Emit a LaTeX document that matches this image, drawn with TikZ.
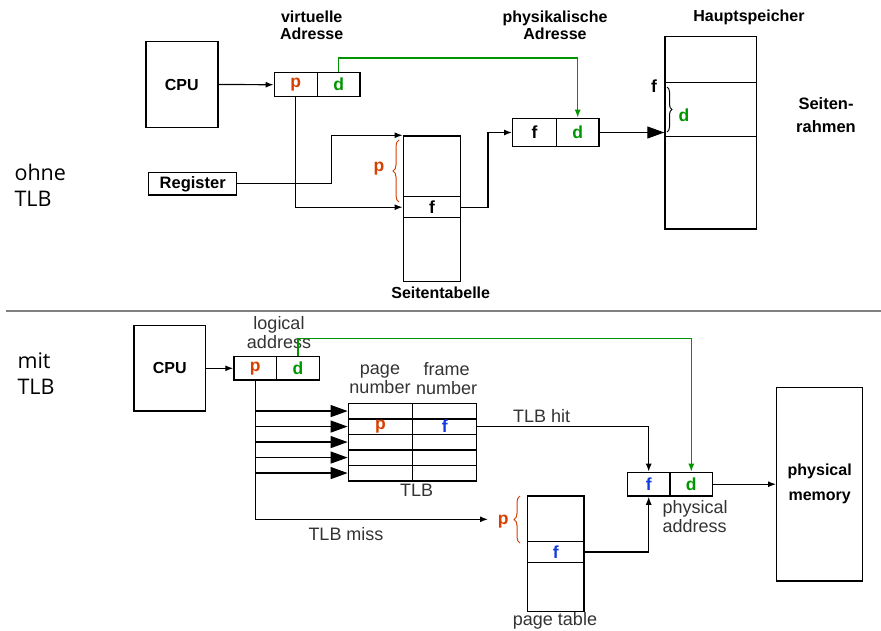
\documentclass[tikz,border=0pt]{standalone}
\usepackage{fontspec}
\setmainfont{Liberation Sans}
\newfontfamily\sidefont{Open Sans}
\usetikzlibrary{arrows.meta,decorations.pathreplacing}
\definecolor{pagered}{RGB}{214,64,0}
\definecolor{offgreen}{RGB}{0,150,0}
\definecolor{frameblue}{RGB}{20,60,220}
\tikzset{
    cell/.style 2 args={draw, line width=1.4pt, inner sep=0pt, minimum width=#1pt, minimum height=#2pt},
    arr/.style={-{Latex[length=8pt,width=6pt]}, line width=1.2pt},
    bigarr/.style={-{Triangle[length=17pt,width=12pt]}, line width=1.2pt},
    greenarr/.style={arr, offgreen},
    toplabel/.style={font=\fontsize{16}{17}\selectfont\bfseries, align=center},
    botlabel/.style={font=\fontsize{18}{19}\selectfont, align=center, text=black!80},
    letter/.style={font=\fontsize{17.5}{18}\selectfont\bfseries},
    pbrace/.style={decorate, decoration={brace, amplitude=6pt}, line width=1pt, pagered}
}
\begin{document}
\begin{tikzpicture}[x=1pt, y=-1pt]
    \useasboundingbox (0,0) rectangle (881,630);

    % Without TLB
    \node[font=\sidefont\fontsize{21.5}{26}\selectfont, anchor=west, align=left] (ohne) at (11,185) {ohne\\TLB};
    \node[cell={72}{85.6}, font=\fontsize{16}{17}\selectfont\bfseries] (cpuA) at (181.8,84.5) {CPU};
    \node[cell={43}{24}, letter, text=pagered] (vp) at (295.8,84.7) {p};
    \node[cell={42.7}{24}, letter, text=offgreen] (vd) at (338.7,84.7) {d};
    \node[toplabel] (vlabel) at (311.7,25.5) {virtuelle\\Adresse};
    \node[cell={88}{22.3}, font=\fontsize{16.5}{17}\selectfont\bfseries] (reg) at (192.7,183.8) {Register};

    % Seitentabelle
    \node[cell={57.4}{60.7}] (stTop) at (432,166.3) {};
    \node[cell={57.4}{21}, letter] (stF) at (432,207.2) {f};
    \node[cell={57.4}{64}] (stBot) at (432,249.7) {};
    \node[toplabel] (stlabel) at (440.7,293) {Seitentabelle};
    \draw[pbrace] (399,202) -- (399,140);
    \node[letter, text=pagered] (stp) at (379,169) {p};

    % physikalische Adresse
    \node[cell={43.6}{28.4}, letter] (pf) at (534.5,132.5) {f};
    \node[cell={42.7}{28.4}, letter, text=offgreen] (pd) at (577.7,132.5) {d};
    \node[toplabel] (plabel) at (555,25.5) {physikalische\\Adresse};

    % Hauptspeicher
    \node[cell={91.7}{45.6}] (hsTop) at (710.8,59.5) {};
    \node[cell={91.7}{54.4}] (hsFrame) at (710.8,109.5) {};
    \node[cell={91.7}{92.3}] (hsBot) at (710.8,182.8) {};
    \node[toplabel] (hslabel) at (749,17) {Hauptspeicher};
    \node[toplabel, font=\fontsize{16.5}{23}\selectfont\bfseries] (rahmen) at (826,115.5) {Seiten-\\rahmen};
    \draw[decorate, decoration={brace, amplitude=5pt}, line width=1pt] (667,87) -- (667,132);
    \node[letter] (hsf) at (654,85.7) {f};
    \node[letter, text=offgreen] (hsd) at (684,115.7) {d};

    \draw[arr] (cpuA.east) -- (vp.west);
    \draw[greenarr] (vd.north) -- ++(0,-14) -| (pd.north);
    \draw[arr] (vp.south) |- (stF.west);
    \draw[arr] (reg.east) -- ++(94.3,0) |- (stTop.north west);
    \draw[arr] (stF.east) -- ++(26.6,0) |- (pf.west);
    \draw[bigarr] (pd.east) -- (pd.east -| hsFrame.west);

    % separator
    \draw[line width=1.2pt, black!50] (6,311) -- (881,311);

    % With TLB
    \node[anchor=west, align=left, font=\sidefont\fontsize{21.5}{26}\selectfont] (mit) at (14,374) {mit\\TLB};
    \node[cell={71.7}{85.3}, font=\fontsize{16}{17}\selectfont\bfseries] (cpuB) at (169.8,368.3) {CPU};
    \node[cell={42.7}{23.3}, letter, text=pagered] (lp) at (255.3,368.3) {p};
    \node[cell={42.6}{23.3}, letter, text=offgreen] (ld) at (298,368.3) {d};
    \node[botlabel] (llabel) at (279,333) {logical\\address};

    % TLB
    \foreach \i in {1,...,5} {
        \node[cell={64.4}{15.5}] (tlbP\i) at (380.5,{403.3+15.5*(\i-0.5)}) {};
        \node[cell={64}{15.5}] (tlbF\i) at (444.7,{403.3+15.5*(\i-0.5)}) {};
        \draw[bigarr] (lp.south |- tlbP\i.west) -- (tlbP\i.west);
    }
    \node[letter, text=pagered] at (tlbP2) {p};
    \node[letter, text=frameblue] at (tlbF2) {f};
    \node[botlabel] (pnum) at (380,379) {page\\number};
    \node[botlabel] (fnum) at (446.7,379) {frame\\number};
    \node[botlabel] (tlblabel) at (416.7,490) {TLB};

    % page table
    \node[cell={56.7}{45.7}] (ptTop) at (555.7,518.8) {};
    \node[cell={56.7}{20.6}, letter, text=frameblue] (ptF) at (555.7,552) {f};
    \node[cell={56.7}{49.4}] (ptBot) at (555.7,587) {};
    \node[botlabel] (ptlabel) at (555,620.7) {page table};
    \draw[pbrace] (520,543) -- (520,496);
    \node[letter, text=pagered] (ptp) at (503.3,521.7) {p};

    % physical address
    \node[cell={42.7}{23.7}, letter, text=frameblue] (af) at (648.7,484.2) {f};
    \node[cell={42.7}{23.7}, letter, text=offgreen] (ad) at (691.3,484.2) {d};
    \node[botlabel, anchor=west, align=left] (alabel) at (659,516.7) {physical\\address};
    \node[cell={86}{193.7}, font=\fontsize{16}{25}\selectfont\bfseries, align=center] (mem) at (819.7,484.2) {physical\\memory};

    \coordinate (missEnd) at (488,519.3);
    \draw[arr] (cpuB.east) -- (lp.west);
    \draw[greenarr] (ld.north) -- ++(0,-17.7) -| (ad.north);
    \draw[arr] (lp.south) |- (missEnd);
    \node[botlabel] (misslabel) at (346,534) {TLB miss};
    \draw[arr] (tlbF2.east) -| (af.north);
    \node[botlabel] (hitlabel) at (541.7,415.7) {TLB hit};
    \draw[arr] (ptF.east) -| (af.south);
    \draw[arr] (ad.east) -- (mem.west);
\end{tikzpicture}
\end{document}
